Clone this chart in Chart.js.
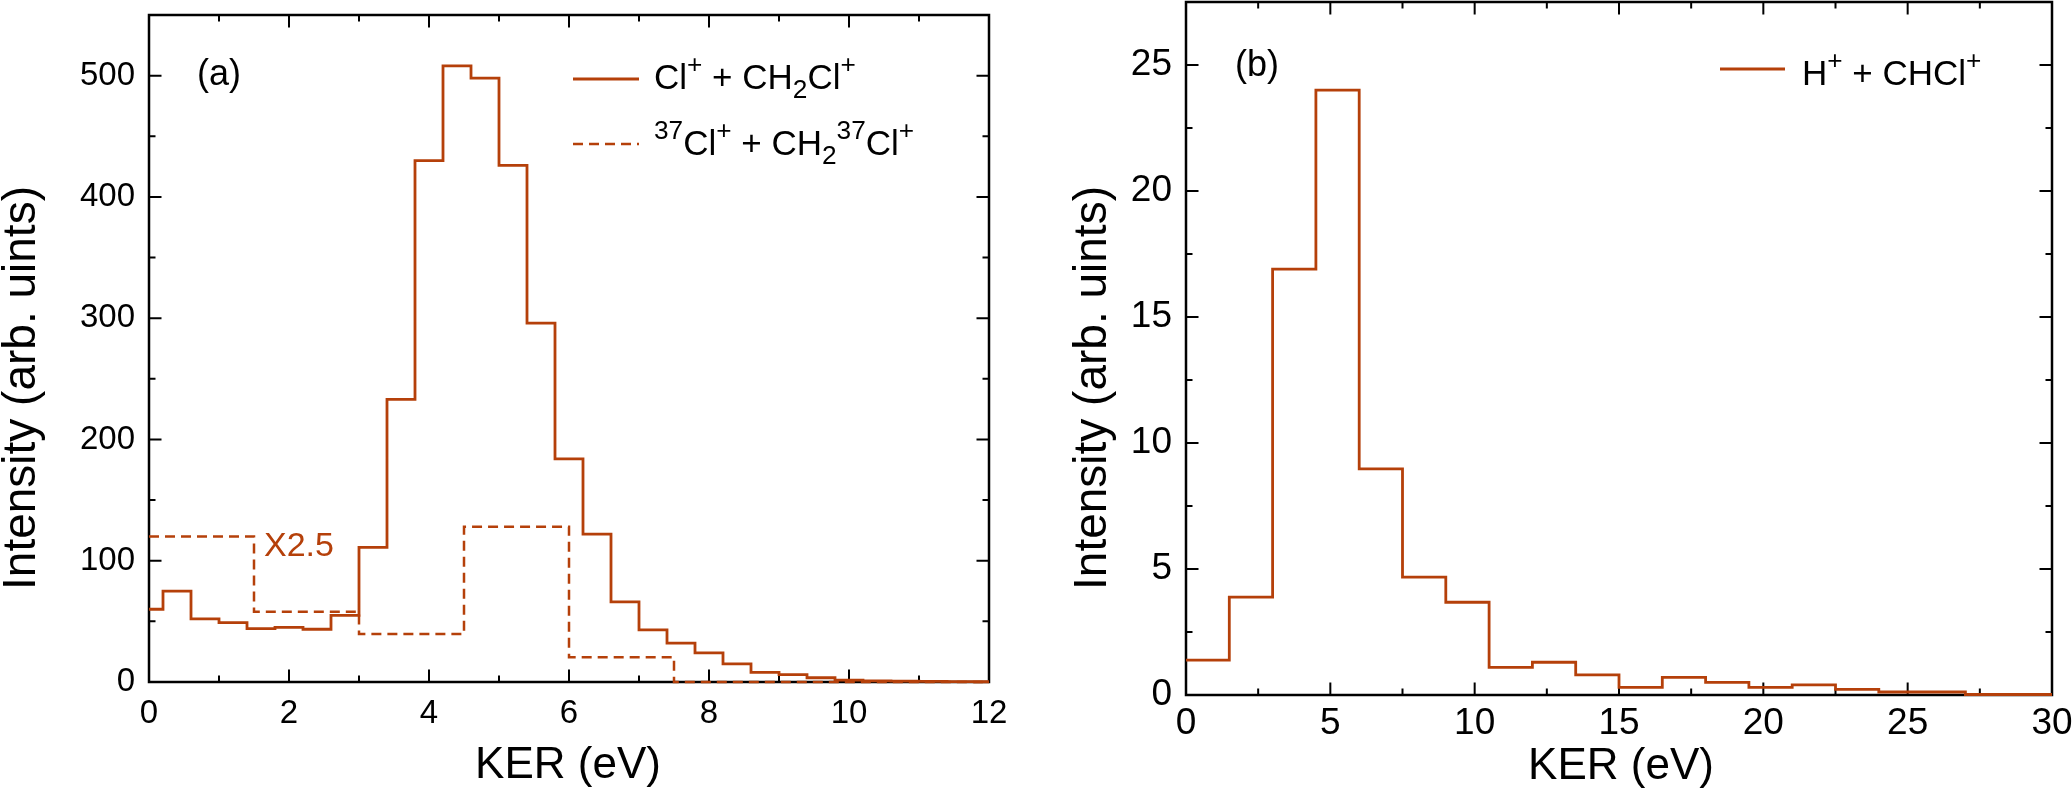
<!DOCTYPE html>
<html>
<head>
<meta charset="utf-8">
<script src="https://cdn.jsdelivr.net/npm/chart.js@4.4.0/dist/chart.umd.min.js"></script>
<style>
  html, body { margin: 0; padding: 0; background: #fff; overflow: hidden; width: 2072px; height: 792px; }
  #caixaA { position: absolute; left: 0; top: 0; width: 1036px; height: 792px; }
  #caixaB { position: absolute; left: 1036px; top: 0; width: 1060px; height: 792px; }
</style>
</head>
<body>
<div id="caixaA"><canvas id="graficoA"></canvas></div>
<div id="caixaB"><canvas id="graficoB"></canvas></div>
<script>
// Painel (a): Cl+ + CH2Cl+, centros dos bins de 0.4 eV
const kerA = [0, 0.4, 0.8, 1.2, 1.6, 2, 2.4, 2.8, 3.2, 3.6, 4, 4.4, 4.8, 5.2, 5.6, 6,
  6.4, 6.8, 7.2, 7.6, 8, 8.4, 8.8, 9.2, 9.6, 10, 10.4, 10.8, 11.2, 11.6, 12];
const intensA = [60, 75, 52, 49, 44, 45, 43.5, 55, 111, 233, 430, 508, 498, 426, 296, 184,
  122, 66, 43, 32, 24, 15, 8, 6, 3.5, 1.5, 1, 0.8, 0.5, 0.3, 0.2];

// Painel (a): 37Cl+ + CH2 37Cl+ (x2.5), bordas dos bins de 1.5 eV
const kerA37 = [0, 1.5, 3, 4.5, 6, 7.5, 12];
const intensA37 = [120, 58, 39.5, 128, 20.5, 0, 0];

// Painel (b): H+ + CHCl+, bordas dos bins de 1.5 eV
const kerB = [0, 1.5, 3, 4.5, 6, 7.5, 9, 10.5, 12, 13.5, 15, 16.5, 18, 19.5, 21, 22.5,
  24, 25.5, 27, 28.5, 30];
const intensB = [1.38, 3.88, 16.9, 24.0, 8.97, 4.68, 3.68, 1.1, 1.3, 0.8, 0.3, 0.7, 0.5,
  0.3, 0.4, 0.22, 0.12, 0.12, 0.02, 0.02, 0.02];

// marcas dos eixos
const xTicksA = [0, 2, 4, 6, 8, 10, 12];
const xMenoresA = [1, 3, 5, 7, 9, 11];
const yTicksA = [0, 100, 200, 300, 400, 500];
const yMenoresA = [50, 150, 250, 350, 450];
const xTicksB = [0, 5, 10, 15, 20, 25, 30];
const xMenoresB = [2.5, 7.5, 12.5, 17.5, 22.5, 27.5];
const yTicksB = [0, 5, 10, 15, 20, 25];
const yMenoresB = [2.5, 7.5, 12.5, 17.5, 22.5];

const COR = "#B5400A";
const FONTE = '"Liberation Sans", Arial, Helvetica, sans-serif';

// moldura com marcas para dentro nos quatro lados
const moldura = {
  id: "moldura",
  beforeDatasetsDraw(chart, args, opts) {
    const { ctx, chartArea: a, scales: { x, y } } = chart;
    ctx.save();
    ctx.strokeStyle = "#000";
    ctx.lineWidth = 2.5;
    ctx.strokeRect(a.left, a.top, a.right - a.left, a.bottom - a.top);
    ctx.lineWidth = 2;
    const marcas = (vals, len) => {
      ctx.beginPath();
      vals.forEach(v => {
        const px = x.getPixelForValue(v);
        ctx.moveTo(px, a.bottom); ctx.lineTo(px, a.bottom - len);
        ctx.moveTo(px, a.top); ctx.lineTo(px, a.top + len);
      });
      ctx.stroke();
    };
    const marcasY = (vals, len) => {
      ctx.beginPath();
      vals.forEach(v => {
        const py = y.getPixelForValue(v);
        ctx.moveTo(a.left, py); ctx.lineTo(a.left + len, py);
        ctx.moveTo(a.right, py); ctx.lineTo(a.right - len, py);
      });
      ctx.stroke();
    };
    marcas(opts.xMaiores, 12.5);
    marcas(opts.xMenores, 6.5);
    marcasY(opts.yMaiores, 12.5);
    marcasY(opts.yMenores, 6.5);
    ctx.restore();
  }
};

// texto com sobrescritos e subscritos
function textoRico(ctx, partes, x, y, size, cor) {
  let cx = x;
  ctx.fillStyle = cor;
  ctx.textAlign = "left";
  ctx.textBaseline = "alphabetic";
  partes.forEach(([t, m]) => {
    const s = m ? size * 0.75 : size;
    const dy = m === "sup" ? -size * 0.45 : m === "sub" ? size * 0.27 : 0;
    ctx.font = `${s}px ${FONTE}`;
    ctx.fillText(t, cx, y + dy);
    cx += ctx.measureText(t).width;
  });
}

const textos = {
  id: "textos",
  afterDatasetsDraw(chart, args, opts) {
    const ctx = chart.ctx;
    ctx.save();
    (opts.rotulos || []).forEach(r => textoRico(ctx, r.partes, r.x, r.y, r.size, r.cor || "#000"));
    (opts.legenda || []).forEach(l => {
      const ds = chart.data.datasets[l.ds];
      ctx.strokeStyle = ds.borderColor;
      ctx.lineWidth = ds.borderWidth;
      ctx.setLineDash(ds.borderDash || []);
      ctx.beginPath();
      ctx.moveTo(l.x0, l.yl); ctx.lineTo(l.x1, l.yl);
      ctx.stroke();
      ctx.setLineDash([]);
      textoRico(ctx, l.partes, l.xt, l.yt, l.size, "#000");
    });
    // títulos dos eixos
    ctx.fillStyle = "#000";
    ctx.textAlign = "center";
    ctx.textBaseline = "middle";
    ctx.font = `${opts.tamTituloX}px ${FONTE}`;
    ctx.fillText(opts.tituloX, opts.xt[0], opts.xt[1]);
    ctx.font = `${opts.tamTituloY}px ${FONTE}`;
    ctx.translate(opts.yt[0], opts.yt[1]);
    ctx.rotate(-Math.PI / 2);
    ctx.fillText(opts.tituloY, 0, 0);
    ctx.restore();
  }
};

function escalas(xmin, xmax, xTicks, ymin, ymax, yTicks, tam, padX, altX, largY) {
  return {
    x: {
      type: "linear", min: xmin, max: xmax,
      grid: { display: false, drawTicks: false }, border: { display: false },
      afterBuildTicks: s => { s.ticks = xTicks.map(v => ({ value: v })); },
      ticks: { font: { family: FONTE, size: tam }, color: "#000", padding: padX, maxRotation: 0, autoSkip: false },
      afterFit: s => { s.height = altX; s.paddingLeft = 0; s.paddingRight = 0; }
    },
    y: {
      type: "linear", min: ymin, max: ymax,
      grid: { display: false, drawTicks: false }, border: { display: false },
      afterBuildTicks: s => { s.ticks = yTicks.map(v => ({ value: v })); },
      ticks: { font: { family: FONTE, size: tam }, color: "#000", padding: 14 },
      afterFit: s => { s.width = largY; s.paddingTop = 0; s.paddingBottom = 0; }
    }
  };
}

const pontos = (xs, ys) => xs.map((x, i) => ({ x, y: ys[i] }));

new Chart(document.getElementById("graficoA"), {
  type: "line",
  data: {
    datasets: [
      { label: "Cl+ + CH2Cl+", data: pontos(kerA, intensA), stepped: "middle",
        borderColor: COR, borderWidth: 2.8, pointRadius: 0, fill: false, clip: 4 },
      { label: "37Cl+ + CH2 37Cl+", data: pontos(kerA37, intensA37), stepped: "before",
        borderColor: COR, borderWidth: 2.5, borderDash: [10, 6], pointRadius: 0, fill: false, clip: 4 }
    ]
  },
  options: {
    responsive: true, maintainAspectRatio: false, animation: false,
    layout: { padding: { top: 15, right: 47, left: 0, bottom: 0 } },
    scales: escalas(0, 12, xTicksA, 0, 550, yTicksA, 33, 12, 110, 149),
    plugins: {
      legend: { display: false }, tooltip: { enabled: false },
      moldura: { xMaiores: xTicksA, xMenores: xMenoresA, yMaiores: yTicksA, yMenores: yMenoresA },
      textos: {
        rotulos: [
          { partes: [["(a)", ""]], x: 197, y: 85, size: 36 },
          { partes: [["X2.5", ""]], x: 264, y: 556, size: 34, cor: COR }
        ],
        legenda: [
          { ds: 0, x0: 573, x1: 639, yl: 79, xt: 654, yt: 89, size: 35,
            partes: [["Cl", ""], ["+", "sup"], [" + CH", ""], ["2", "sub"], ["Cl", ""], ["+", "sup"]] },
          { ds: 1, x0: 573, x1: 639, yl: 144, xt: 654, yt: 155, size: 35,
            partes: [["37", "sup"], ["Cl", ""], ["+", "sup"], [" + CH", ""], ["2", "sub"], ["37", "sup"], ["Cl", ""], ["+", "sup"]] }
        ],
        tamTituloX: 44, tamTituloY: 46,
        tituloX: "KER (eV)", xt: [568, 766],
        tituloY: "Intensity (arb. uints)", yt: [22, 388]
      }
    }
  },
  plugins: [moldura, textos]
});

new Chart(document.getElementById("graficoB"), {
  type: "line",
  data: {
    datasets: [
      { label: "H+ + CHCl+", data: pontos(kerB, intensB), stepped: "before",
        borderColor: COR, borderWidth: 2.8, pointRadius: 0, fill: false, clip: 4 }
    ]
  },
  options: {
    responsive: true, maintainAspectRatio: false, animation: false,
    layout: { padding: { top: 2, right: 44, left: 0, bottom: 0 } },
    scales: escalas(0, 30, xTicksB, 0, 27.5, yTicksB, 37, 7, 97, 150),
    plugins: {
      legend: { display: false }, tooltip: { enabled: false },
      moldura: { xMaiores: xTicksB, xMenores: xMenoresB, yMaiores: yTicksB, yMenores: yMenoresB },
      textos: {
        rotulos: [
          { partes: [["(b)", ""]], x: 199, y: 76, size: 36 }
        ],
        legenda: [
          { ds: 0, x0: 684, x1: 749, yl: 69, xt: 766, yt: 85, size: 35,
            partes: [["H", ""], ["+", "sup"], [" + CHCl", ""], ["+", "sup"]] }
        ],
        tamTituloX: 44, tamTituloY: 46,
        tituloX: "KER (eV)", xt: [585, 767],
        tituloY: "Intensity (arb. uints)", yt: [57, 388]
      }
    }
  },
  plugins: [moldura, textos]
});
</script>
</body>
</html>
